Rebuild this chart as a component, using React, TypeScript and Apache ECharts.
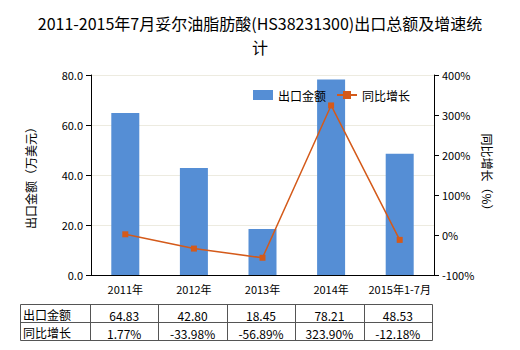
import React, { useEffect, useRef } from "react";
import * as echarts from "echarts";

const categories = ["2011年", "2012年", "2013年", "2014年", "2015年1-7月"];
const exportValues = [64.83, 42.8, 18.45, 78.21, 48.53];
const growthValues = [1.77, -33.98, -56.89, 323.9, -12.18];
const exportLabels = ["64.83", "42.80", "18.45", "78.21", "48.53"];
const growthLabels = ["1.77%", "-33.98%", "-56.89%", "323.90%", "-12.18%"];
const rowNames = ["出口金额", "同比增长"];

const FONT = "'Noto Sans CJK SC', 'Noto Sans', sans-serif";
const BAR = "#558ED5";
const LINE = "#D45A1A";

export default function App() {
  const ref = useRef<HTMLDivElement>(null);
  useEffect(() => {
    if (!ref.current) return;
    const chart = echarts.init(ref.current, undefined, { renderer: "svg" });

    const tx0 = 20;
    const tx1 = 90;
    const tx2 = 432;
    const ty0 = 304;
    const rowH = 18;
    const colW = (tx2 - tx1) / categories.length;
    const graphics: any[] = [];
    graphics.push({
      type: "rect",
      shape: { x: tx0 + 0.5, y: ty0 + 0.5, width: tx2 - tx0, height: rowH * 2 },
      style: { fill: "none", stroke: "#555", lineWidth: 1 },
    });
    graphics.push({
      type: "line",
      shape: { x1: tx0, y1: ty0 + rowH + 0.5, x2: tx2, y2: ty0 + rowH + 0.5 },
      style: { stroke: "#555", lineWidth: 1 },
    });
    for (let i = 0; i <= categories.length - 1; i++) {
      const x = Math.round(tx1 + colW * i) + 0.5;
      graphics.push({
        type: "line",
        shape: { x1: x, y1: ty0, x2: x, y2: ty0 + rowH * 2 },
        style: { stroke: "#555", lineWidth: 1 },
      });
    }
    const rows = [exportLabels, growthLabels];
    rows.forEach((row, r) => {
      graphics.push({
        type: "text",
        x: tx0 + 3,
        y: ty0 + rowH * r + rowH / 2 + 1,
        style: {
          text: rowNames[r],
          font: `12px ${FONT}`,
          fill: "#000",
          textVerticalAlign: "middle",
          textAlign: "left",
        },
      });
      row.forEach((t, i) => {
        graphics.push({
          type: "text",
          x: tx1 + colW * (i + 0.5),
          y: ty0 + rowH * r + rowH / 2 + 2,
          style: {
            text: t,
            font: `12px ${FONT}`,
            fill: "#000",
            textAlign: "center",
            textVerticalAlign: "middle",
          },
        });
      });
    });
    graphics.push({
      type: "text",
      x: 30,
      y: 175,
      rotation: Math.PI / 2,
      style: {
        text: "出口金额（万美元）",
        font: `12px ${FONT}`,
        fill: "#000",
        textAlign: "center",
        textVerticalAlign: "middle",
      },
    });
    graphics.push({
      type: "text",
      x: 487,
      y: 175,
      rotation: -Math.PI / 2,
      style: {
        text: "同比增长（%）",
        font: `12px ${FONT}`,
        fill: "#000",
        textAlign: "center",
        textVerticalAlign: "middle",
      },
    });

    chart.setOption({
      animation: false,
      backgroundColor: "#fff",
      title: {
        text: "2011-2015年7月妥尔油脂肪酸(HS38231300)出口总额及增速统\n计",
        left: "center",
        top: 6,
        textStyle: {
          fontFamily: FONT,
          fontSize: 16,
          fontWeight: "normal",
          color: "#000",
          lineHeight: 24,
        },
      },
      legend: {
        top: 84,
        left: 248,
        itemWidth: 20,
        itemHeight: 10,
        itemGap: 10,
        textStyle: { fontFamily: FONT, fontSize: 12, color: "#000" },
        data: [
          { name: "出口金额", icon: "rect" },
          { name: "同比增长" },
        ],
      },
      grid: { left: 91, right: 86, top: 75, bottom: 75 },
      xAxis: {
        type: "category",
        data: categories,
        axisLine: { lineStyle: { color: "#000" } },
        axisTick: { alignWithLabel: true, lineStyle: { color: "#000" } },
        axisLabel: { fontFamily: FONT, fontSize: 11, color: "#000", margin: 8, interval: 0 },
      },
      yAxis: [
        {
          type: "value",
          min: 0,
          max: 80,
          interval: 20,
          axisLine: { show: true, lineStyle: { color: "#000" } },
          axisTick: { show: true, lineStyle: { color: "#000" } },
          axisLabel: {
            fontFamily: FONT,
            fontSize: 11,
            color: "#000",
            formatter: (v: number) => v.toFixed(1),
          },
          splitLine: { lineStyle: { color: "#EDEBE0" } },
        },
        {
          type: "value",
          min: -100,
          max: 400,
          interval: 100,
          axisLine: { show: true, lineStyle: { color: "#000" } },
          axisTick: { show: true, lineStyle: { color: "#000" } },
          axisLabel: {
            fontFamily: FONT,
            fontSize: 11,
            color: "#000",
            formatter: "{value}%",
          },
          splitLine: { show: false },
        },
      ],
      series: [
        {
          name: "出口金额",
          type: "bar",
          data: exportValues,
          barWidth: 28,
          itemStyle: { color: BAR },
        },
        {
          name: "同比增长",
          type: "line",
          yAxisIndex: 1,
          data: growthValues,
          symbol: "rect",
          symbolSize: 6,
          itemStyle: { color: LINE },
          lineStyle: { color: LINE, width: 1.5 },
        },
      ],
      graphic: graphics,
    });
    return () => chart.dispose();
  }, []);
  return <div ref={ref} style={{ width: 520, height: 350, margin: -8 }} />;
}
